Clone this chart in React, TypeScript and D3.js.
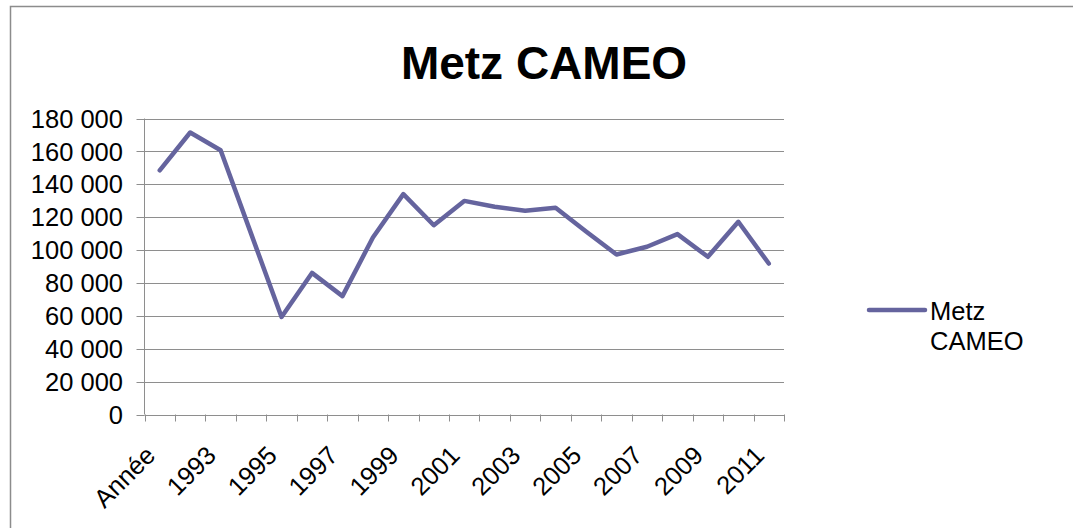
import React from "react";
import * as d3 from "d3";

// categories (the first one is the header cell Excel picked up)
const categories = [
  "Année", "1992", "1993", "1994", "1995", "1996", "1997", "1998", "1999", "2000",
  "2001", "2002", "2003", "2004", "2005", "2006", "2007", "2008", "2009", "2010", "2011",
];
const metzCameo = [
  148500, 171500, 160700, 110000, 59300, 86100, 72000, 107600, 134000, 115100,
  129900, 126300, 123900, 125700, 111300, 97300, 102000, 109700, 95900, 117200, 91800,
];
const yTicks = [0, 20000, 40000, 60000, 80000, 100000, 120000, 140000, 160000, 180000];
const seriesName = "Metz CAMEO";

const W = 1073;
const H = 528;
const plot = { left: 144.5, right: 784, top: 118.5, bottom: 414.5 };
const lineCol = "#65649E";
const font = "Arial, 'Liberation Sans', sans-serif";

const fmt = (v: number) => d3.format(",")(v).replace(/,/g, " ");

export default function App() {
  const x = d3.scaleBand<string>().domain(categories).range([plot.left, plot.right]);
  const y = d3.scaleLinear().domain([0, 180000]).range([plot.bottom, plot.top]);
  const cx = (c: string) => (x(c) as number) + x.bandwidth() / 2;

  const line = d3
    .line<number>()
    .x((_, i) => cx(categories[i]))
    .y((d) => y(d));

  const tickXs = categories.map((c) => x(c) as number).concat([plot.right]);

  return (
    <svg width={W} height={H} style={{ position: "absolute", left: 0, top: 0, background: "#fff" }}>
      <rect x={10.5} y={6.5} width={1200} height={700} fill="#fff" stroke="#8c8c8c" strokeWidth={1.5} />

      <text x={544} y={79} textAnchor="middle" fontFamily={font} fontWeight="bold" fontSize={46}>
        {seriesName}
      </text>

      {/* gridlines */}
      {yTicks.map((t) => (
        <line key={"g" + t} x1={plot.left} x2={plot.right} y1={Math.round(y(t)) + 0.5} y2={Math.round(y(t)) + 0.5}
          stroke="#8e8e8e" strokeWidth={1} />
      ))}
      {/* y axis */}
      <line x1={plot.left} x2={plot.left} y1={plot.top} y2={plot.bottom} stroke="#8e8e8e" />
      {yTicks.map((t) => (
        <g key={"y" + t}>
          <line x1={plot.left - 8} x2={plot.left} y1={Math.round(y(t)) + 0.5} y2={Math.round(y(t)) + 0.5} stroke="#8e8e8e" />
          <text x={123} y={y(t)} dy="0.36em" textAnchor="end" fontFamily={font} fontSize={25.5}>
            {fmt(t)}
          </text>
        </g>
      ))}

      {/* x axis */}
      {tickXs.map((tx, i) => (
        <line key={"t" + i} x1={Math.round(tx) + 0.5} x2={Math.round(tx) + 0.5} y1={plot.bottom} y2={plot.bottom + 7} stroke="#8e8e8e" />
      ))}
      {categories.map((c, i) =>
        i % 2 === 0 ? (
          <text key={"x" + c} transform={`translate(${cx(c) - 3},457) rotate(-45)`} textAnchor="end"
            fontFamily={font} fontSize={25.5}>
            {c}
          </text>
        ) : null
      )}

      <path d={line(metzCameo) || ""} fill="none" stroke={lineCol} strokeWidth={4.5}
        strokeLinejoin="round" strokeLinecap="round" />

      {/* legend */}
      <line x1={869} x2={925} y1={310} y2={310} stroke={lineCol} strokeWidth={4.5} strokeLinecap="round" />
      <text x={930} y={320} fontFamily={font} fontSize={25.5}>Metz</text>
      <text x={930} y={350} fontFamily={font} fontSize={25.5}>CAMEO</text>
    </svg>
  );
}
